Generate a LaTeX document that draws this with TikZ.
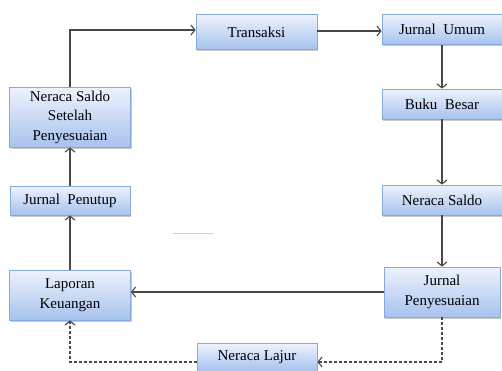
\documentclass[tikz,border=0pt]{standalone}
\usepackage{fontspec}
\setmainfont{Liberation Serif}
\usetikzlibrary{arrows.meta,shadows}
\tikzset{
  box/.style={draw=boxline, line width=0.8pt, top color=boxtop, bottom color=boxbot,
    rectangle, align=center, inner sep=0pt, font=\fontsize{15}{19.5}\selectfont,
    drop shadow={shadow xshift=1pt, shadow yshift=-1.5pt, fill=black!35, opacity=0.6}},
  conn/.style={draw=lineg, line width=1.8pt, -{Straight Barb[length=4pt,width=10pt,line width=1.1pt]}},
  dconn/.style={conn, dash pattern=on 3pt off 2pt, line width=1.6pt}
}
\definecolor{boxline}{HTML}{86A9DE}
\definecolor{boxtop}{HTML}{EEF3FC}
\definecolor{boxbot}{HTML}{A6C2EE}
\definecolor{lineg}{HTML}{484848}
\begin{document}
\begin{tikzpicture}[x=1pt,y=-1pt]
\useasboundingbox (0,0) rectangle (502,370);
\node[box, minimum width=121pt, minimum height=35pt] (trans) at (256.5,32) {Transaksi};
\node[box, minimum width=120pt, minimum height=30pt] (ju) at (442,29.5) {Jurnal\ \ Umum};
\node[box, minimum width=120pt, minimum height=30pt] (bb) at (442,104) {Buku\ \ Besar};
\node[box, minimum width=120pt, minimum height=30pt] (ns) at (442,200) {Neraca Saldo};
\node[box, minimum width=116pt, minimum height=50pt] (jp) at (442,292) {Jurnal\\Penyesuaian};
\node[box, minimum width=120pt, minimum height=28pt] (nl) at (257,357) {Neraca Lajur};
\node[box, minimum width=121pt, minimum height=50pt] (lk) at (70,295) {Laporan\\Keuangan};
\node[box, minimum width=120pt, minimum height=29pt] (jt) at (70,200.5) {Jurnal\ \ Penutup};
\node[box, minimum width=121pt, minimum height=60pt] (nssp) at (70,117) {Neraca Saldo\\Setelah\\Penyesuaian};
\coordinate (tl) at (70,30);
\coordinate (tr) at (300,31);
\coordinate (br) at (442,362);
\coordinate (bl) at (70,362);
\draw[conn] (nssp.north) -- (tl) -- (trans.west |- tl);
\draw[conn] (trans.east |- tr) -- (ju.west |- tr);
\draw[conn] (ju.south) -- (bb.north);
\draw[conn] (bb.south) -- (ns.north);
\draw[conn] (ns.south) -- (jp.north);
\draw[conn] (jp.west) -- (lk.east |- jp.west);
\draw[conn] (lk.north) -- (jt.south);
\draw[conn] (jt.north) -- (nssp.south);
\draw[dconn] (jp.south) -- (br) -- (nl.east |- br);
\draw[dconn] (nl.west |- bl) -- (bl) -- (lk.south);
\draw[black!20, line width=1pt] (173,233) -- (213,233);
\end{tikzpicture}
\end{document}
